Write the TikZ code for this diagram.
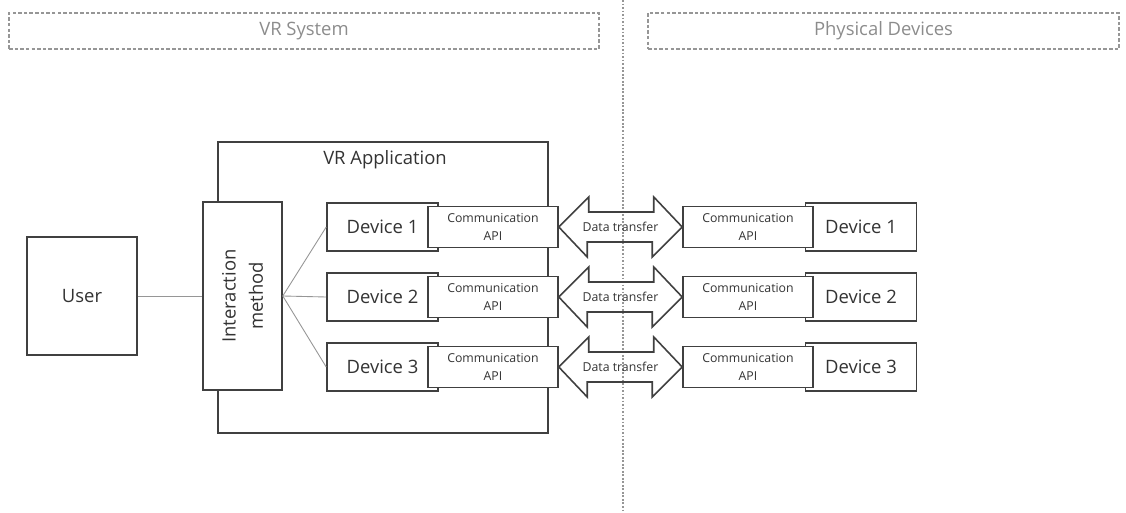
\documentclass[tikz,border=0pt]{standalone}
\usepackage{fontspec}
\setmainfont{Open Sans}
\usetikzlibrary{arrows.meta, positioning, calc}
\definecolor{boxline}{RGB}{64,64,64}
\definecolor{softgray}{RGB}{150,150,150}

\begin{document}
\begin{tikzpicture}[x=0.02cm, y=-0.02cm, every node/.style={font=\fontsize{10.5}{12}\selectfont, text=black!80}]
    \tikzset{blk/.style={rectangle, draw=boxline, line width=0.9pt, fill=white,
                         inner sep=0pt, align=center},
             dev/.style={blk, minimum width=2.22cm, minimum height=0.96cm},
             api/.style={blk, minimum width=2.6cm, minimum height=0.82cm,
                         font=\fontsize{7}{10.5}\selectfont},
             hdr/.style={rectangle, draw=softgray, dashed, dash pattern=on 2pt off 1.2pt,
                         line width=0.7pt, minimum height=0.72cm, text=black!45},
             wire/.style={draw=softgray, line width=0.5pt},
             xfer/.style={draw=boxline, line width=0.9pt, line join=miter}}
    \useasboundingbox (0,0) rectangle (1126,513);
    \node[hdr, minimum width=11.8cm] (vrsys) at (304,31) {VR System};
    \node[hdr, minimum width=9.42cm] (phys) at (883.5,31) {Physical Devices};
    \coordinate (divtop) at (623,0);
    \coordinate (divbot) at (623,513);
    \draw[softgray, line width=0.6pt, dash pattern=on 1pt off 1pt] (divtop) -- (divbot);
    \node[blk, minimum width=6.6cm, minimum height=5.82cm] (vrapp) at (383,287.5) {};
    \node (vrlbl) at (385,160) {VR Application};
    \node[blk, rotate=90, minimum width=3.76cm, minimum height=1.58cm,
          font=\fontsize{10.5}{15.5}\selectfont] (imeth) at (242.5,296) {Interaction\\method};
    \node[blk, minimum width=2.2cm, minimum height=2.36cm] (user) at (82,296) {User};
    \draw[wire] (user) -- (imeth);
    \foreach \i/\y in {1/227, 2/297, 3/367} {
      \node[dev] (devL\i) at (382.5,\y) {Device \i};
      \draw[wire] (imeth.south) -- (devL\i.west);
      \node[api] (apiL\i) at (493,\y) {Communication\\API};
      \node[dev] (devR\i) at (861,\y) {Device \i};
      \node[api] (apiR\i) at (748,\y) {Communication\\API};
      \draw[xfer] (apiL\i.east) -- ++(30,-30) -- ++(0,15) -- ++(65,0) -- ++(0,-15)
        -- (apiR\i.west) -- ++(-30,30) -- ++(0,-15) -- ++(-65,0) -- ++(0,15) -- cycle;
      \path (apiL\i.east) -- node[font=\fontsize{7}{9}\selectfont] (dt\i) {Data transfer} (apiR\i.west);
    }
  \end{tikzpicture}
\end{document}
